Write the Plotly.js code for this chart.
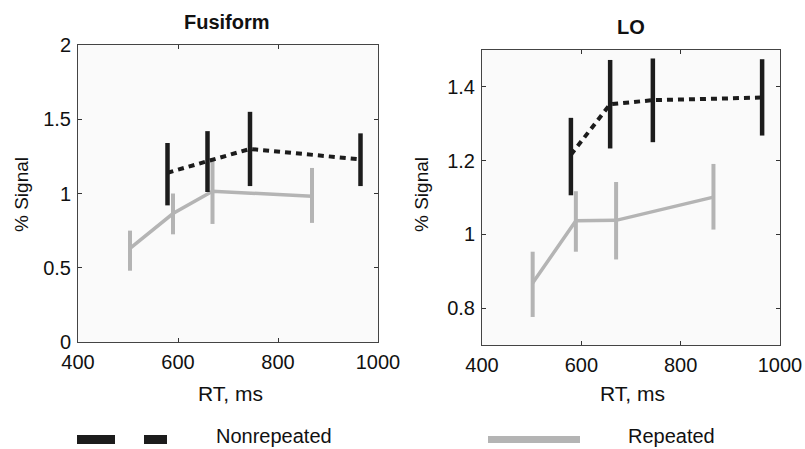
<!DOCTYPE html>
<html>
<head>
<meta charset="utf-8">
<script src="https://cdn.plot.ly/plotly-3.0.1.min.js"></script>
<style>html,body{margin:0;padding:0;background:#fff;}#chart{width:805px;height:449px;}</style>
</head>
<body>
<div id="chart"></div>
<script>
// ---- data ----
const panelTitles = ["Fusiform", "LO"];
const seriesNames = ["Nonrepeated", "Repeated"];
const xTickVals = [400, 600, 800, 1000];
const fusiformYTicks = [0, 0.5, 1, 1.5, 2];
const loYTicks = [0.8, 1, 1.2, 1.4];

// Fusiform
const fusNonrepRT = [579, 659, 744, 965];
const fusNonrepSignal = [1.14, 1.22, 1.30, 1.23];
const fusNonrepErrUp = [0.20, 0.20, 0.25, 0.175];
const fusNonrepErrDown = [0.22, 0.21, 0.25, 0.18];
const fusRepRT = [504, 590, 669, 868];
const fusRepSignal = [0.63, 0.865, 1.015, 0.982];
const fusRepErrUp = [0.12, 0.135, 0.22, 0.19];
const fusRepErrDown = [0.15, 0.14, 0.22, 0.18];

// LO
const loNonrepRT = [579, 658, 744, 964];
const loNonrepSignal = [1.216, 1.353, 1.364, 1.371];
const loNonrepErrUp = [0.10, 0.12, 0.113, 0.104];
const loNonrepErrDown = [0.11, 0.12, 0.114, 0.103];
const loRepRT = [502, 589, 670, 866];
const loRepSignal = [0.868, 1.037, 1.038, 1.101];
const loRepErrUp = [0.085, 0.08, 0.104, 0.09];
const loRepErrDown = [0.092, 0.084, 0.106, 0.088];

// ---- styles ----
const W = 805, H = 449;
const black = "#1c1c1c", gray = "#b4b4b4";
const font = "Liberation Sans, Arial, Helvetica, sans-serif";

function nonrepTrace(x, y, up, down, xa, ya) {
  return {x: x, y: y, xaxis: xa, yaxis: ya, type: "scatter", mode: "lines",
    name: seriesNames[0], showlegend: false,
    line: {color: black, width: 4, dash: "6px,5px"},
    error_y: {type: "data", symmetric: false, array: up, arrayminus: down,
      color: black, thickness: 4.5, width: 0}};
}
function repTrace(x, y, up, down, xa, ya) {
  return {x: x, y: y, xaxis: xa, yaxis: ya, type: "scatter", mode: "lines",
    name: seriesNames[1], showlegend: false,
    line: {color: gray, width: 3.5},
    error_y: {type: "data", symmetric: false, array: up, arrayminus: down,
      color: gray, thickness: 4, width: 0}};
}

const traces = [
  repTrace(fusRepRT, fusRepSignal, fusRepErrUp, fusRepErrDown, "x", "y"),
  nonrepTrace(fusNonrepRT, fusNonrepSignal, fusNonrepErrUp, fusNonrepErrDown, "x", "y"),
  repTrace(loRepRT, loRepSignal, loRepErrUp, loRepErrDown, "x2", "y2"),
  nonrepTrace(loNonrepRT, loNonrepSignal, loNonrepErrUp, loNonrepErrDown, "x2", "y2")
];

function xAxis(domain, anchor) {
  return {domain: domain, anchor: anchor, range: [400, 1000], tickvals: xTickVals,
    ticks: "inside", ticklen: 4, tickcolor: "#333", showline: true, linecolor: "#444",
    linewidth: 1, mirror: "ticks", showgrid: false, zeroline: false, ticklabelstandoff: 2,
    tickfont: {family: font, size: 20, color: "#111"}};
}
function yAxis(domain, anchor, range, ticks) {
  return {domain: domain, anchor: anchor, range: range, tickvals: ticks,
    ticks: "inside", ticklen: 4, tickcolor: "#333", showline: true, linecolor: "#444",
    linewidth: 1, mirror: "ticks", showgrid: false, zeroline: false, ticklabelstandoff: 2,
    tickfont: {family: font, size: 20, color: "#111"}};
}

const px = v => v / W, py = v => 1 - v / H;
function label(text, x, y, size, angle) {
  return {text: text, xref: "paper", yref: "paper", x: px(x), y: py(y),
    xanchor: "center", yanchor: "middle", showarrow: false, textangle: angle || 0,
    font: {family: font, size: size, color: "#111"}};
}

const layout = {
  width: W, height: H,
  margin: {l: 0, r: 0, t: 0, b: 0},
  paper_bgcolor: "#ffffff", plot_bgcolor: "#fafafa",
  showlegend: false,
  xaxis: xAxis([px(78), px(378)], "y"),
  yaxis: yAxis([py(342), py(45)], "x", [0, 2], fusiformYTicks),
  xaxis2: xAxis([px(482), px(780)], "y2"),
  yaxis2: yAxis([py(345), py(50)], "x2", [0.7, 1.5], loYTicks),
  annotations: [
    label("<b>" + panelTitles[0] + "</b>", 227, 22, 20),
    label("<b>" + panelTitles[1] + "</b>", 631, 27, 20),
    label("% Signal", 21, 195, 19, -90),
    label("% Signal", 421, 195, 19, -90),
    label("RT, ms", 230, 393, 21),
    label("RT, ms", 632, 393, 21),
    label(seriesNames[0], 274, 436, 20),
    label(seriesNames[1], 671, 436, 20)
  ],
  shapes: [
    {type: "rect", xref: "paper", yref: "paper", x0: px(77), x1: px(115), y0: py(444), y1: py(435), fillcolor: black, line: {width: 0}},
    {type: "rect", xref: "paper", yref: "paper", x0: px(144), x1: px(167), y0: py(444), y1: py(435), fillcolor: black, line: {width: 0}},
    {type: "rect", xref: "paper", yref: "paper", x0: px(488), x1: px(580), y0: py(443), y1: py(436), fillcolor: gray, line: {width: 0}}
  ]
};

Plotly.newPlot("chart", traces, layout, {staticPlot: true, displayModeBar: false});
</script>
</body>
</html>
